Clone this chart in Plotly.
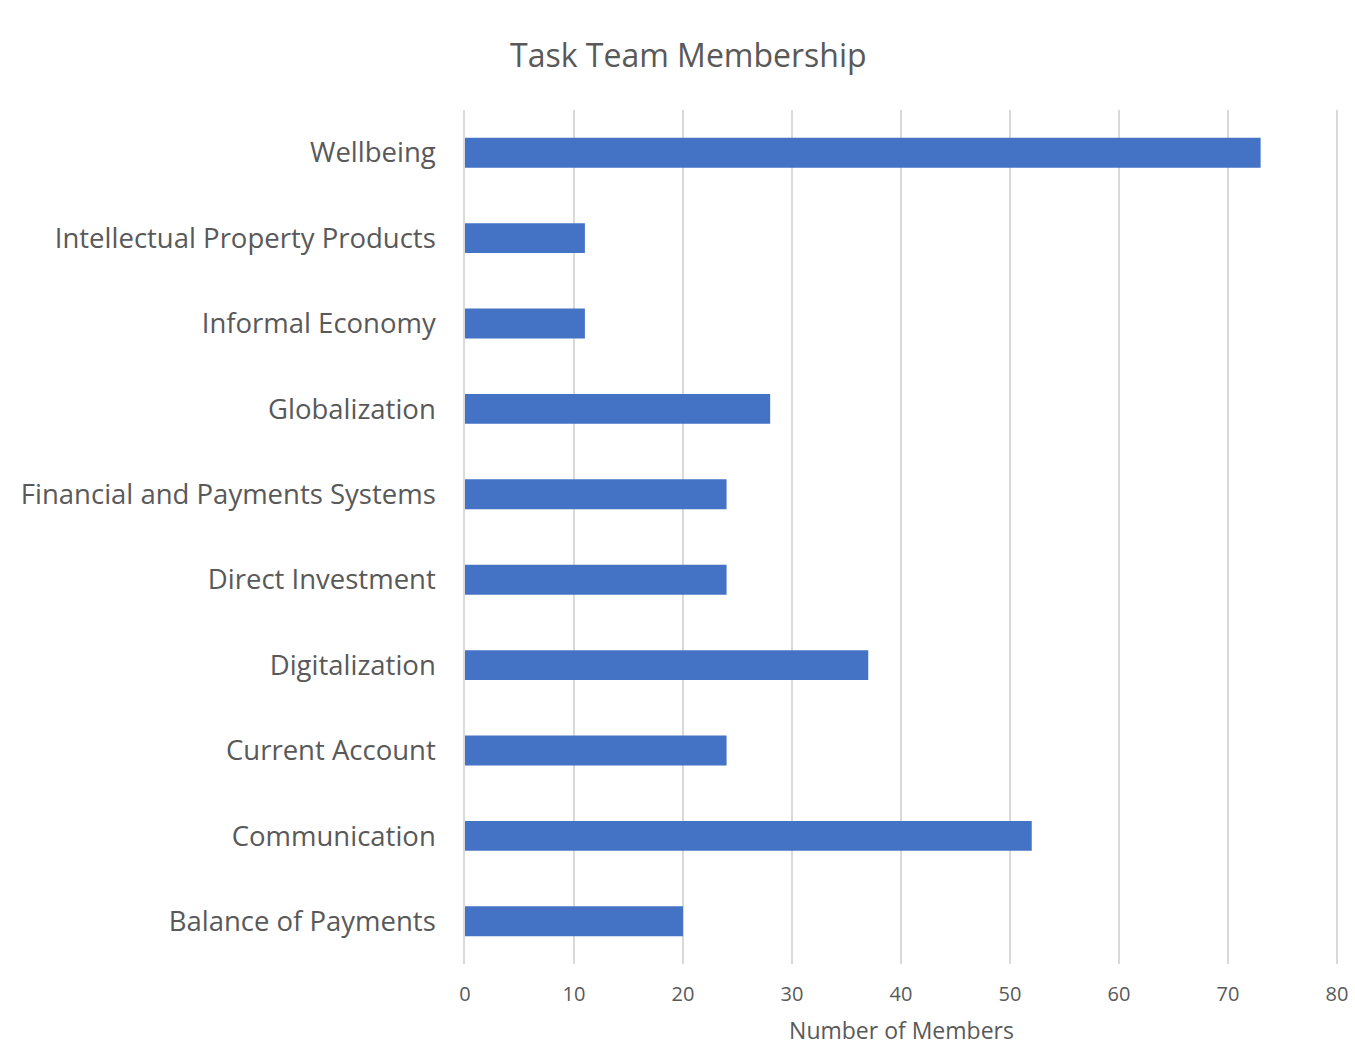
import plotly.graph_objects as go

categories = ["Balance of Payments", "Communication", "Current Account", "Digitalization",
              "Direct Investment", "Financial and Payments Systems", "Globalization",
              "Informal Economy", "Intellectual Property Products", "Wellbeing"]
members = [20, 52, 24, 37, 24, 24, 28, 11, 11, 73]
x_ticks = [0, 10, 20, 30, 40, 50, 60, 70, 80]

FONT = "Open Sans"
GREY = "#595959"

fig = go.Figure(go.Bar(
    y=categories, x=members, orientation="h",
    marker=dict(color="#4472C4", line=dict(width=0)),
    width=0.35,
))

fig.update_layout(
    width=1355, height=1046,
    margin=dict(l=465, r=17, t=110, b=82),
    paper_bgcolor="white", plot_bgcolor="white",
    title=dict(text="Task Team Membership", x=0.508, xanchor="center", y=0.9465, yanchor="middle",
               font=dict(family=FONT, size=32, color=GREY)),
    font=dict(family=FONT, color=GREY),
    showlegend=False,
    xaxis=dict(range=[0, 80.1], tickvals=x_ticks, showgrid=True, gridcolor="#d9d9d9", gridwidth=1.5,
               zeroline=False, showline=False, ticks="", tickfont=dict(size=20, color=GREY),
               ticklabelstandoff=16, automargin=False,
               title=dict(text="Number of Members", font=dict(size=23, color=GREY), standoff=22)),
    yaxis=dict(showgrid=False, showline=True, linecolor="#d9d9d9", linewidth=1.5, ticks="",
               ticklabelstandoff=22, tickfont=dict(size=27.5, color=GREY), automargin=False),
)

fig.write_html("out.html", config={"displayModeBar": False},
               post_script="document.body.style.margin='0';document.body.style.overflow='hidden';")
